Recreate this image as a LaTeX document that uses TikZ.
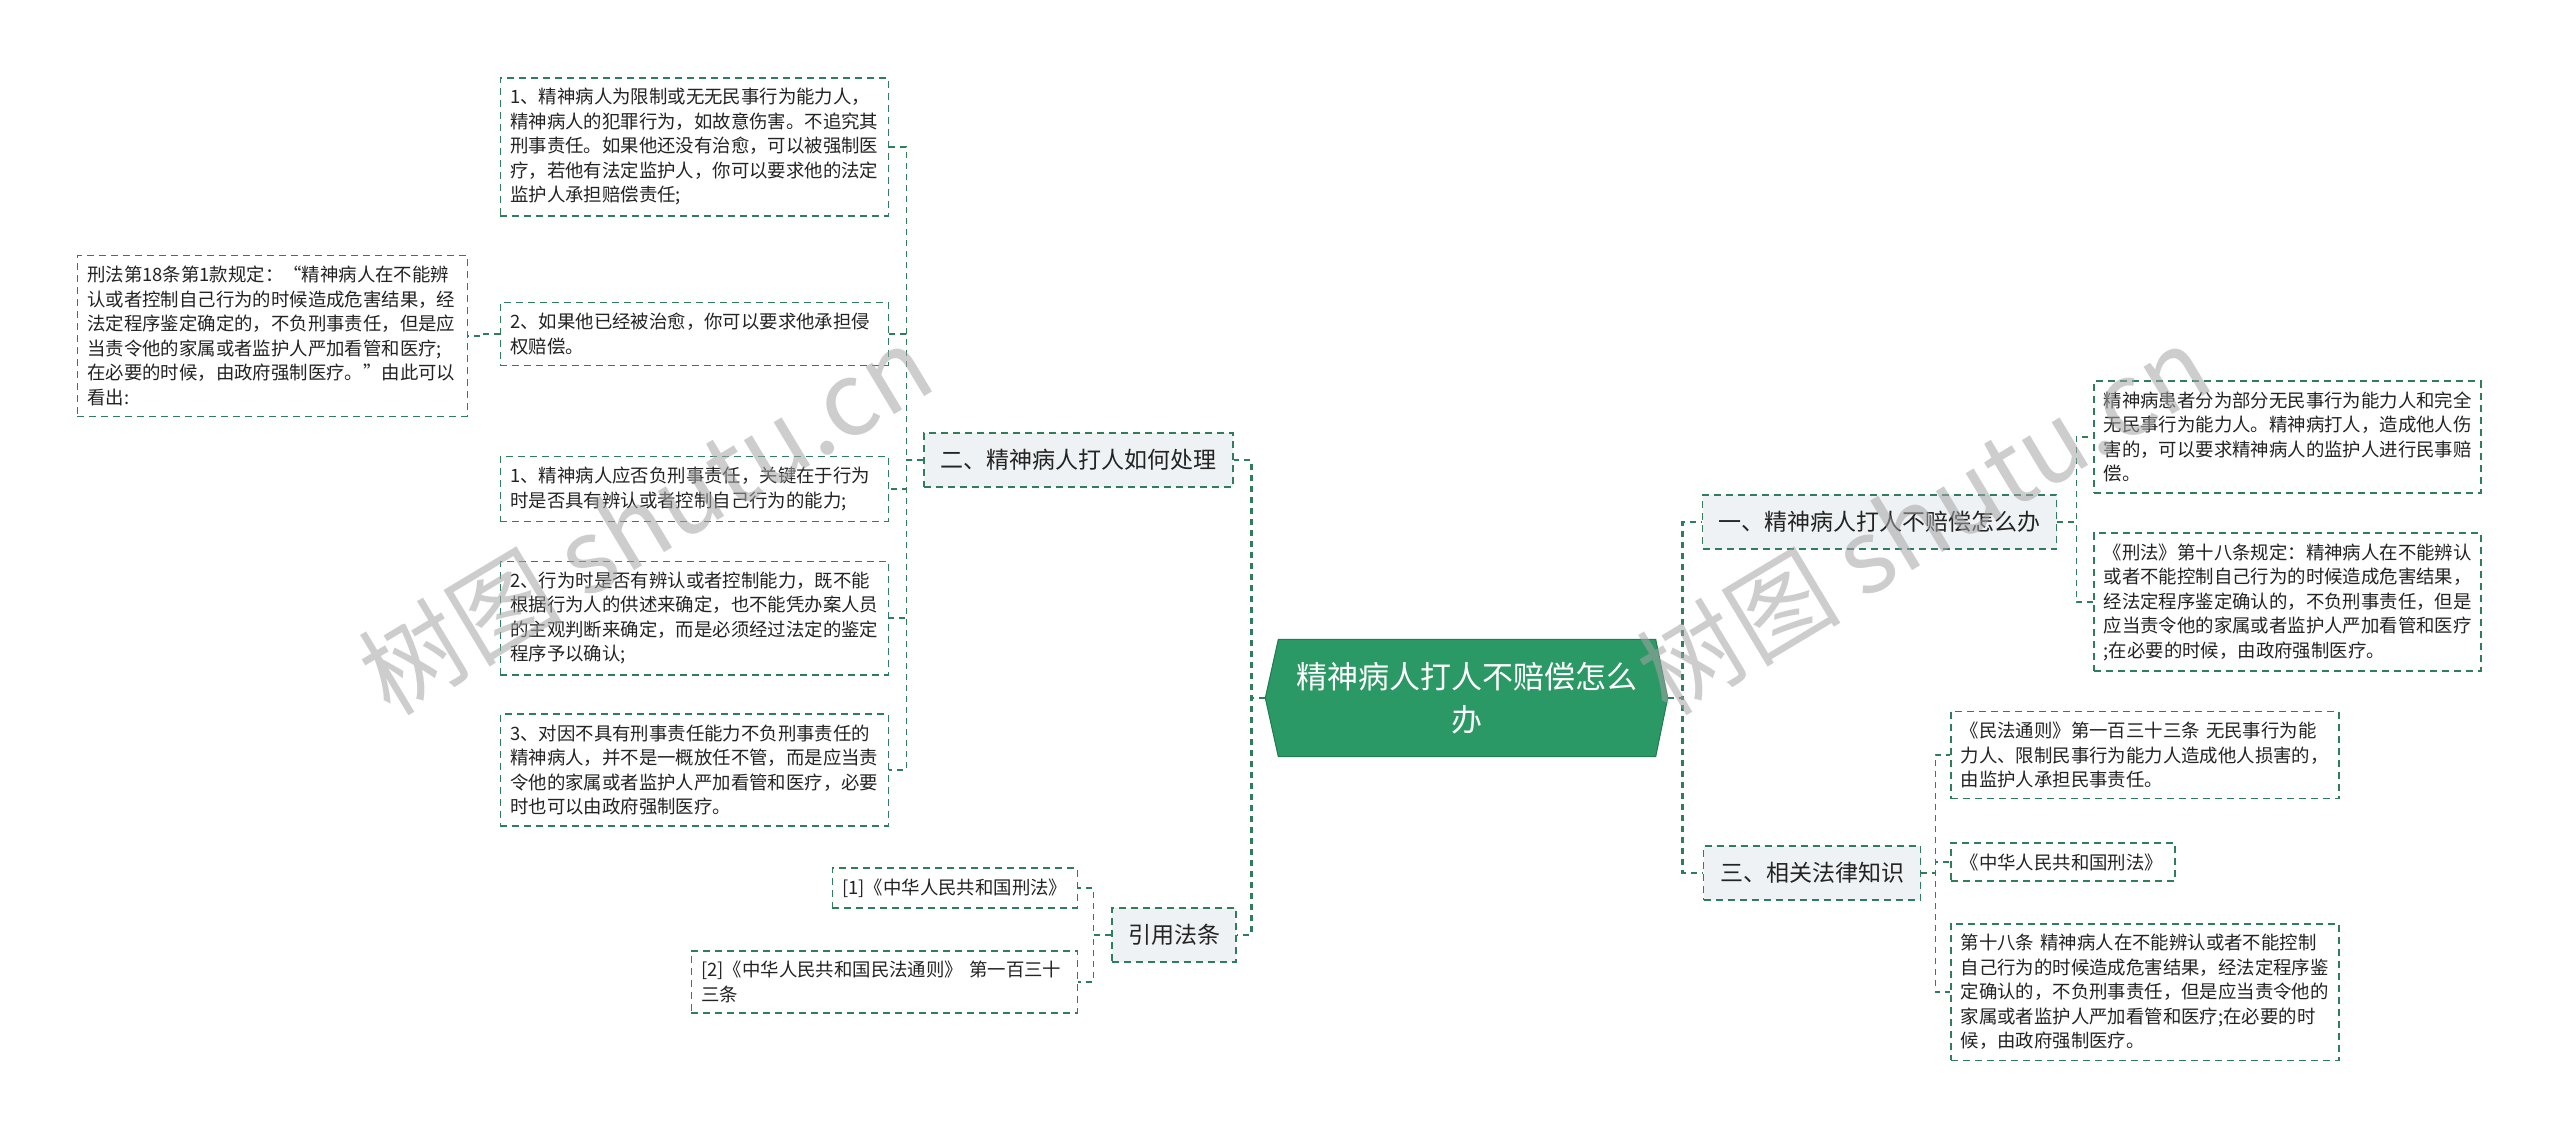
\documentclass[tikz,border=0pt]{standalone}
\usepackage{fontspec}
\setmainfont{Noto Sans CJK SC}
\usetikzlibrary{backgrounds}
\definecolor{lc}{RGB}{46,125,92}
\definecolor{rootg}{RGB}{43,153,101}
\definecolor{catfill}{RGB}{238,242,244}
\definecolor{wm}{RGB}{165,165,165}
\definecolor{txt}{RGB}{35,35,35}
\begin{document}
\begin{tikzpicture}[x=1pt,y=-1pt,
 leaf/.style={draw=lc, line width=1.5pt, dash pattern=on 7pt off 5pt, fill=white,
   font=\fontsize{18.4}{24.5}\selectfont, align=left, inner xsep=10pt, inner ysep=10.5pt,
   text width=#1, text=txt},
 cat/.style={draw=lc, line width=1.5pt, dash pattern=on 7pt off 5pt, fill=catfill,
   font=\fontsize{23}{28}\selectfont, inner sep=0pt, minimum width=#1, minimum height=54pt, text=txt},
 link/.style={draw=lc, line width=1.5pt, dash pattern=on 6pt off 5pt},
 mainlink/.style={draw=lc, line width=2.6pt, dash pattern=on 6pt off 5pt},
 wmark/.style={text=wm, opacity=0.55, font=\fontsize{102}{110}\selectfont, rotate=31}
]
\useasboundingbox (0,0) rectangle (2560,1140);

% root
\node[font=\fontsize{31}{43}\selectfont, text=white, align=center, minimum width=377pt,
      minimum height=117pt, inner sep=0pt] (root) at (1467,698) {精神病人打人不赔偿怎么\\办};
\coordinate (rootL) at ([xshift=-13pt]root.west);
\coordinate (rootR) at ([xshift=12pt]root.east);

% category nodes
\node[cat=309pt] (c2) at (1078.5,460) {二、精神病人打人如何处理};
\node[cat=124pt] (c4) at (1174,935) {引用法条};
\node[cat=354pt] (c1) at (1879.5,522) {一、精神病人打人不赔偿怎么办};
\node[cat=217pt] (c3) at (1812,873) {三、相关法律知识};

% left leaves
\node[leaf=368pt, anchor=east] (l1) at (889,147) {1、精神病人为限制或无无民事行为能力人，\\精神病人的犯罪行为，如故意伤害。不追究其\\刑事责任。如果他还没有治愈，可以被强制医\\疗，若他有法定监护人，你可以要求他的法定\\监护人承担赔偿责任;};
\node[leaf=368pt, anchor=east] (l2) at (889,334) {2、如果他已经被治愈，你可以要求他承担侵\\权赔偿。};
\node[leaf=368pt, anchor=east] (l3) at (889,489) {1、精神病人应否负刑事责任，关键在于行为\\时是否具有辨认或者控制自己行为的能力;};
\node[leaf=368pt, anchor=east] (l4) at (889,618) {2、行为时是否有辨认或者控制能力，既不能\\根据行为人的供述来确定，也不能凭办案人员\\的主观判断来确定，而是必须经过法定的鉴定\\程序予以确认;};
\node[leaf=368pt, anchor=east] (l5) at (889,770) {3、对因不具有刑事责任能力不负刑事责任的\\精神病人，并不是一概放任不管，而是应当责\\令他的家属或者监护人严加看管和医疗，必要\\时也可以由政府强制医疗。};
\node[leaf=370pt, anchor=east] (l2a) at (468,336) {刑法第18条第1款规定：“精神病人在不能辨\\认或者控制自己行为的时候造成危害结果，经\\法定程序鉴定确定的，不负刑事责任，但是应\\当责令他的家属或者监护人严加看管和医疗;\\在必要的时候，由政府强制医疗。”由此可以\\看出:};
\node[leaf=225pt, anchor=east] (r1) at (1078,888) {[1]《中华人民共和国刑法》};
\node[leaf=366pt, anchor=east] (r2) at (1078,982) {[2]《中华人民共和国民法通则》 第一百三十\\三条};

% right leaves
\node[leaf=367pt, anchor=west] (a1) at (2093,437) {精神病患者分为部分无民事行为能力人和完全\\无民事行为能力人。精神病打人，造成他人伤\\害的，可以要求精神病人的监护人进行民事赔\\偿。};
\node[leaf=367pt, anchor=west] (a2) at (2093,602) {《刑法》第十八条规定：精神病人在不能辨认\\或者不能控制自己行为的时候造成危害结果，\\经法定程序鉴定确认的，不负刑事责任，但是\\应当责令他的家属或者监护人严加看管和医疗\\;在必要的时候，由政府强制医疗。};
\node[leaf=368pt, anchor=west] (b1) at (1950,755) {《民法通则》第一百三十三条 无民事行为能\\力人、限制民事行为能力人造成他人损害的，\\由监护人承担民事责任。};
\node[leaf=204pt, anchor=west] (b2) at (1950,862) {《中华人民共和国刑法》};
\node[leaf=368pt, anchor=west] (b3) at (1950,992) {第十八条 精神病人在不能辨认或者不能控制\\自己行为的时候造成危害结果，经法定程序鉴\\定确认的，不负刑事责任，但是应当责令他的\\家属或者监护人严加看管和医疗;在必要的时\\候，由政府强制医疗。};

% background + root shape
\begin{scope}[on background layer]
\fill[white] (0,0) rectangle (2560,1140);
\filldraw[fill=rootg, draw=rootg!80!black, line width=1pt]
  (root.north west) -- (root.north east) -- (rootR) -- (root.south east)
  -- (root.south west) -- (rootL) -- cycle;
% connectors
\draw[mainlink] (rootL) -- ++(-14,0) |- (c2.east);
\draw[mainlink] (rootL) -- ++(-14,0) |- (c4.east);
\draw[mainlink] (rootR) -- ++(15,0) |- (c1.west);
\draw[mainlink] (rootR) -- ++(15,0) |- (c3.west);
\foreach \n in {l1,l2,l3,l4,l5}{\draw[link] (c2.west) -- ++(-17,0) |- (\n.east);}
\draw[link] (l2.west) -- ++(-17,0) |- (l2a.east);
\foreach \n in {r1,r2}{\draw[link] (c4.west) -- ++(-18,0) |- (\n.east);}
\foreach \n in {a1,a2}{\draw[link] (c1.east) -- ++(19,0) |- (\n.west);}
\foreach \n in {b1,b2,b3}{\draw[link] (c3.east) -- ++(14,0) |- (\n.west);}
\end{scope}

% watermarks
\node[wmark] (wm1) at (645,519) {树图 shutu.cn};
\node[wmark] (wm2) at (1923,519) {树图 shutu.cn};
\end{tikzpicture}
\end{document}
